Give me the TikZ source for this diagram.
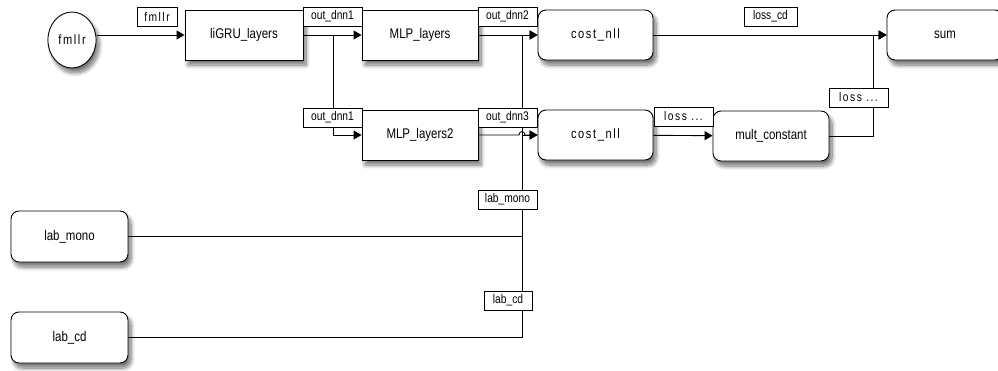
\documentclass[tikz,border=0pt]{standalone}
\usepackage{fontspec}
\setmainfont[FakeStretch=0.82]{Liberation Sans}
\newfontfamily\spacedfont[FakeStretch=0.82,LetterSpace=12]{Liberation Sans}
\usepackage{tikz}
\usetikzlibrary{
    shapes.geometric,
    arrows.meta,
    positioning,
    shadows.blur
}

\begin{document}
\begin{tikzpicture}[
    x=1pt, y=-1pt,
    shade/.style={
        blur shadow={shadow xshift=3pt, shadow yshift=-5pt, shadow blur radius=4pt,
                     shadow opacity=55, shadow blur steps=10}
    },
    block/.style={
        rectangle,
        draw=black,
        fill=white,
        line width=0.9pt,
        minimum width=116pt,
        minimum height=50pt,
        font=\fontsize{14}{16}\selectfont,
        shade
    },
    rblock/.style={block, rounded corners=8pt},
    tag/.style={
        rectangle,
        draw=black,
        fill=white,
        line width=0.8pt,
        minimum height=19pt,
        inner sep=1pt,
        font=\fontsize{12.5}{14}\selectfont
    },
    wire/.style={line width=0.9pt},
    arrow/.style={wire, -{Triangle[length=8pt, width=9pt]}}
]

\useasboundingbox (0,0) rectangle (998,370);

% Input and label sources
\node[ellipse, draw=black, fill=white, line width=0.9pt, minimum width=46pt, minimum height=56pt,
      font=\fontsize{13.5}{15}\spacedfont, shade] (fmllr) at (72, 40) {fmllr};
\node[rblock, minimum width=117pt, minimum height=51pt] (labmono) at (69.5, 236.5) {lab\_mono};
\node[rblock, minimum width=117pt, minimum height=51pt] (labcd) at (69.5, 337.5) {lab\_cd};

% Top row
\node[block, minimum width=118pt] (ligru) at (244, 35) {liGRU\_layers};
\node[block] (mlp) at (420, 35) {MLP\_layers};
\node[rblock, minimum width=115pt, font=\fontsize{13.5}{15}\spacedfont] (nllA) at (595.5, 35) {cost\_nll};
\node[rblock] (sum) at (945, 35) {sum};

% Second row
\node[block] (mlpB) at (420, 135) {MLP\_layers2};
\node[rblock, minimum width=115pt, font=\fontsize{13.5}{15}\spacedfont] (nllB) at (595.5, 135) {cost\_nll};
\node[rblock] (mult) at (771, 136) {mult\_constant};

% Branch points
\coordinate (splitA) at (333, 35);
\coordinate (splitB) at (522, 35);
\coordinate (hop) at (522, 135);
\coordinate (joinS) at (873, 35);

% Arrows
\draw[arrow] (fmllr.east |- ligru.west) -- (ligru.west);
\draw[arrow] (ligru) -- (mlp);
\draw[arrow] (splitA) |- (mlpB.west);
\draw[arrow] (mlp) -- (nllA);
\draw[arrow] (mlpB.east) -- ([xshift=-3pt]hop)
    .. controls (519, 130.5) and (525, 130.5) .. ([xshift=3pt]hop) -- (nllB.west);
\draw[arrow] (nllA) -- (sum);
\draw[arrow] (nllB) -- (mult);
\draw[arrow] (mult.east) -| (joinS) -- (sum.west);
\draw[arrow] (labmono.east) -| (hop) -- (nllB.west);
\draw[arrow] (labcd.east) -| (splitB) -- (nllA.west);

% Port labels
\node[tag, minimum width=40pt, font=\fontsize{12.5}{14}\spacedfont] (tfmllr) at (157, 16.5) {fmllr};
\node[tag, minimum width=59pt] (toutA) at (332.5, 16.5) {out\_dnn1};
\node[tag, minimum width=59pt] (toutB) at (507.5, 16.5) {out\_dnn2};
\node[tag, minimum width=53pt] (tlosscd) at (770.5, 16.5) {loss\_cd};
\node[tag, minimum width=59pt] (toutC) at (332.5, 117.5) {out\_dnn1};
\node[tag, minimum width=59pt] (toutD) at (507.5, 117.5) {out\_dnn3};
\node[tag, minimum width=59pt, font=\fontsize{12.5}{14}\spacedfont] (tlossA) at (683.5, 116.5) {loss ...};
\node[tag, minimum width=59pt, font=\fontsize{12.5}{14}\spacedfont] (tlossB) at (858.5, 97.5) {loss ...};
\node[tag, minimum width=59pt] (tlabmono) at (507.5, 199.5) {lab\_mono};
\node[tag, minimum width=48pt] (tlabcd) at (508, 300.5) {lab\_cd};

\end{tikzpicture}
\end{document}
